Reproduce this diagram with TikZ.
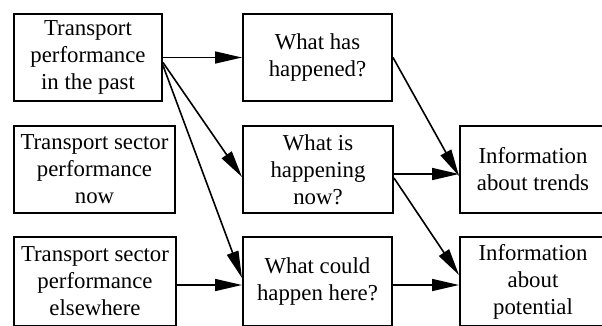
\documentclass[tikz,border=0pt]{standalone}
\usepackage{fontspec}
\setmainfont{Liberation Serif}
\usetikzlibrary{arrows.meta}
\begin{document}
\begin{tikzpicture}[x=1pt,y=-1pt,
  box/.style={draw,line width=2pt,rectangle,inner sep=0pt,align=center,
    font=\fontsize{22.8pt}{27pt}\selectfont},
  conn/.style={line width=1.6pt,-{Triangle[length=27pt,width=12pt]}}]
\useasboundingbox (0,0) rectangle (602,325);
\clip (0,0) rectangle (602,325);
\node[box,minimum width=148pt,minimum height=87pt] (L1) at (88,57.5) {Transport\\performance\\in the past};
\node[box,minimum width=161pt,minimum height=87pt] (L2) at (94.5,169.5) {Transport sector\\performance\\now};
\node[box,minimum width=162pt,minimum height=89pt] (L3) at (95,281.5) {Transport sector\\performance\\elsewhere};
\node[box,minimum width=149pt,minimum height=87pt] (M1) at (317.5,57.5) {What has\\happened?};
\node[box,minimum width=150pt,minimum height=87pt] (M2) at (318,169.5) {What is\\happening\\now?};
\node[box,minimum width=149pt,minimum height=89pt] (M3) at (317.5,281.5) {What could\\happen here?};
\node[box,minimum width=146pt,minimum height=87pt] (R1) at (533,169.5) {Information\\about trends};
\node[box,minimum width=146pt,minimum height=89pt] (R2) at (533,281.5) {Information\\about\\potential};
\draw[conn] (L1.east) -- (M1.west);
\draw[conn] ([yshift=-5pt]L1.east) -- ([yshift=-7.5pt]M2.west);
\draw[conn] ([yshift=-8pt]L1.east) -- ([yshift=3.5pt]M3.west);
\draw[conn] ([yshift=-3.5pt]L3.east) -- ([yshift=-3.5pt]M3.west);
\draw[conn] (M1.east) -- ([yshift=-6.5pt]R1.west);
\draw[conn] ([yshift=-4.5pt]M2.east) -- ([yshift=-4.5pt]R1.west);
\draw[conn] ([yshift=-8.5pt]M2.east) -- ([yshift=6.5pt]R2.west);
\draw[conn] ([yshift=-3.5pt]M3.east) -- ([yshift=-3.5pt]R2.west);
\end{tikzpicture}
\end{document}
